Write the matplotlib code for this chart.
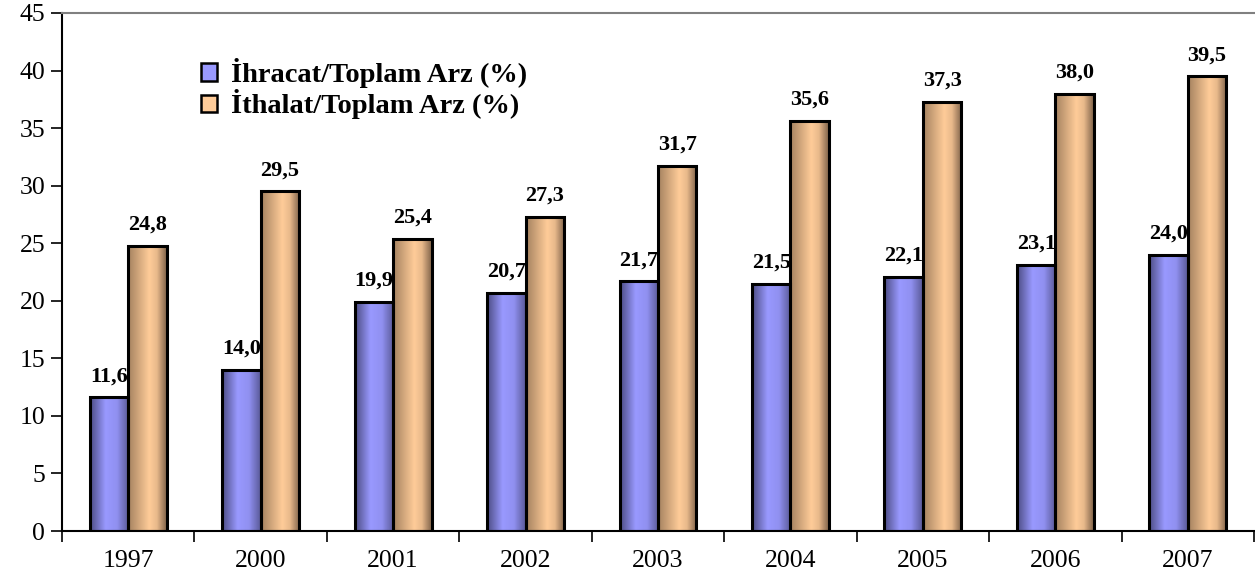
import numpy as np
import matplotlib.pyplot as plt
from matplotlib.colors import LinearSegmentedColormap
from matplotlib.patches import Rectangle

years = ['1997', '2000', '2001', '2002', '2003', '2004', '2005', '2006', '2007']
ihracat = [11.6, 14.0, 19.9, 20.7, 21.7, 21.5, 22.1, 23.1, 24.0]
ithalat = [24.8, 29.5, 25.4, 27.3, 31.7, 35.6, 37.3, 38.0, 39.5]
labels = ['İhracat/Toplam Arz (%)', 'İthalat/Toplam Arz (%)']

plt.rcParams['font.family'] = ['Liberation Serif', 'DejaVu Serif']

# yatay gradyan renkleri
cm_blue = LinearSegmentedColormap.from_list('b', [(0, '#4d4d85'), (0.4, '#9999ff'), (0.7, '#9090f0'), (1, '#5a5a98')])
cm_orng = LinearSegmentedColormap.from_list('o', [(0, '#a58260'), (0.55, '#ffcc99'), (0.75, '#e8b98b'), (1, '#80634a')])
grad = np.linspace(0, 1, 64).reshape(1, -1)

fig = plt.figure(figsize=(12.55, 5.77), dpi=100)
ax = fig.add_axes([0.0494, 0.0797, 0.9498, 0.8978])

x = np.arange(len(years))
w = 0.29


def gradient_bars(bars, cmap):
    for b in bars:
        bx, by = b.get_x(), b.get_y()
        bw, bh = b.get_width(), b.get_height()
        im = ax.imshow(grad, cmap=cmap, aspect='auto', extent=[bx, bx + bw, by, by + bh],
                       zorder=2, interpolation='bicubic')
        im.set_clip_path(b)


b1 = ax.bar(x - w / 2, ihracat, w, facecolor='none', edgecolor='black', linewidth=2.2, zorder=3)
b2 = ax.bar(x + w / 2, ithalat, w, facecolor='none', edgecolor='black', linewidth=2.2, zorder=3)
gradient_bars(b1, cm_blue)
gradient_bars(b2, cm_orng)

for bars, vals in [(b1, ihracat), (b2, ithalat)]:
    for b, v in zip(bars, vals):
        ax.annotate(f'{v:.1f}'.replace('.', ','), (b.get_x() + b.get_width() / 2, v),
                    xytext=(0, 8), textcoords='offset points', ha='center', va='bottom',
                    fontsize=16, fontweight='bold')

ax.set_xlim(-0.5, len(years) - 0.5)
ax.set_ylim(0, 45)
ax.set_yticks(range(0, 46, 5))
ax.tick_params(axis='y', labelsize=18.5, length=8, width=1.2, direction='out', pad=4)
ax.set_xticks(x)
ax.set_xticklabels(years)
ax.tick_params(axis='x', labelsize=18.5, length=0, pad=14)
ax.set_xticks(np.arange(-0.5, len(years), 1), minor=True)
ax.tick_params(axis='x', which='minor', length=8, width=1.2, direction='out')

ax.spines['left'].set_linewidth(1.5)
ax.spines['bottom'].set_linewidth(1.5)
ax.spines['top'].set_color('#808080')
ax.spines['top'].set_linewidth(1.5)
ax.spines['right'].set_visible(False)

handles = [Rectangle((0, 0), 1, 1, facecolor='#9999ff', edgecolor='black', linewidth=1.8),
           Rectangle((0, 0), 1, 1, facecolor='#ffcc99', edgecolor='black', linewidth=1.8)]
leg = ax.legend(handles, labels, loc='upper left', bbox_to_anchor=(0.107, 0.935), frameon=False,
                prop={'weight': 'bold', 'size': 20.5}, handlelength=0.55, handleheight=0.55,
                handletextpad=0.5, labelspacing=0.05, borderaxespad=0)

fig.savefig('out.png', dpi=100)
